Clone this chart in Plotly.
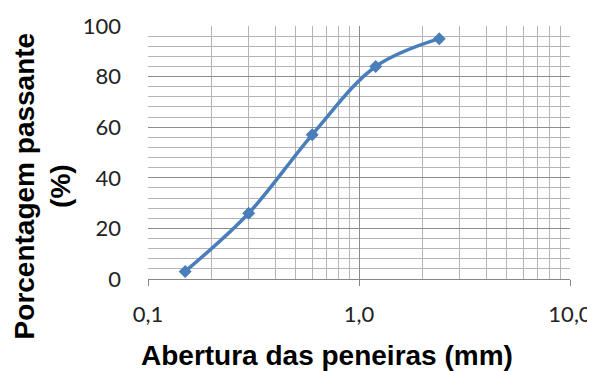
import plotly.graph_objects as go

abertura = [0.15, 0.3, 0.6, 1.2, 2.4]
passante = [3, 26, 57, 84, 95]
x_tickvals = [0.1, 1, 10]
x_ticktext = ["0,1", "1,0", "10,0"]
y_tickvals = [0, 20, 40, 60, 80, 100]
x_title = "Abertura das peneiras (mm)"
y_title = "Porcentagem passante<br>(%)"

fig = go.Figure()
fig.add_trace(go.Scatter(
    x=abertura, y=passante, mode="lines+markers",
    line=dict(color="#4A7EBB", width=3.5, shape="spline", smoothing=1.0),
    marker=dict(symbol="diamond", size=10, color="#4A7EBB"),
    showlegend=False,
))

# page body adds an 8px offset, so the figure is drawn 8px smaller
fig.update_layout(
    width=587, height=363,
    margin=dict(l=140, r=25, t=18, b=92),
    paper_bgcolor="white", plot_bgcolor="white",
    font=dict(family="Lato, Carlito, sans-serif", color="#222222", size=22),
)
title_font = dict(family="Liberation Sans, Arial, sans-serif", size=28, color="black")
fig.update_xaxes(
    type="log", range=[-1, 1], automargin=False,
    tickvals=x_tickvals, ticktext=x_ticktext,
    ticks="outside", ticklen=6, tickcolor="#868686", ticklabelstandoff=10,
    showgrid=True, gridcolor="#8c8c8c", gridwidth=1,
    minor=dict(dtick="D1", showgrid=True, gridcolor="#b4b4b4", gridwidth=1, ticks=""),
    showline=True, linecolor="#868686", zeroline=False,
    tickfont=dict(size=22),
)
fig.update_yaxes(
    range=[0, 100], tickvals=y_tickvals, automargin=False,
    showgrid=True, gridcolor="#8c8c8c", gridwidth=1,
    minor=dict(dtick=4, showgrid=True, gridcolor="#b4b4b4", gridwidth=1, ticks=""),
    showline=False, zeroline=False, ticks="", ticklabelstandoff=26,
    tickfont=dict(size=22),
)
fig.add_annotation(
    text="<b>" + x_title + "</b>", xref="paper", yref="paper",
    x=0.424, y=-0.304, xanchor="center", yanchor="middle",
    showarrow=False, font=title_font,
)
fig.add_annotation(
    text="<b>" + y_title + "</b>", xref="paper", yref="paper",
    x=-0.25, y=0.368, xanchor="center", yanchor="middle",
    textangle=-90, showarrow=False, font=title_font,
)
fig.write_html("out.html")
